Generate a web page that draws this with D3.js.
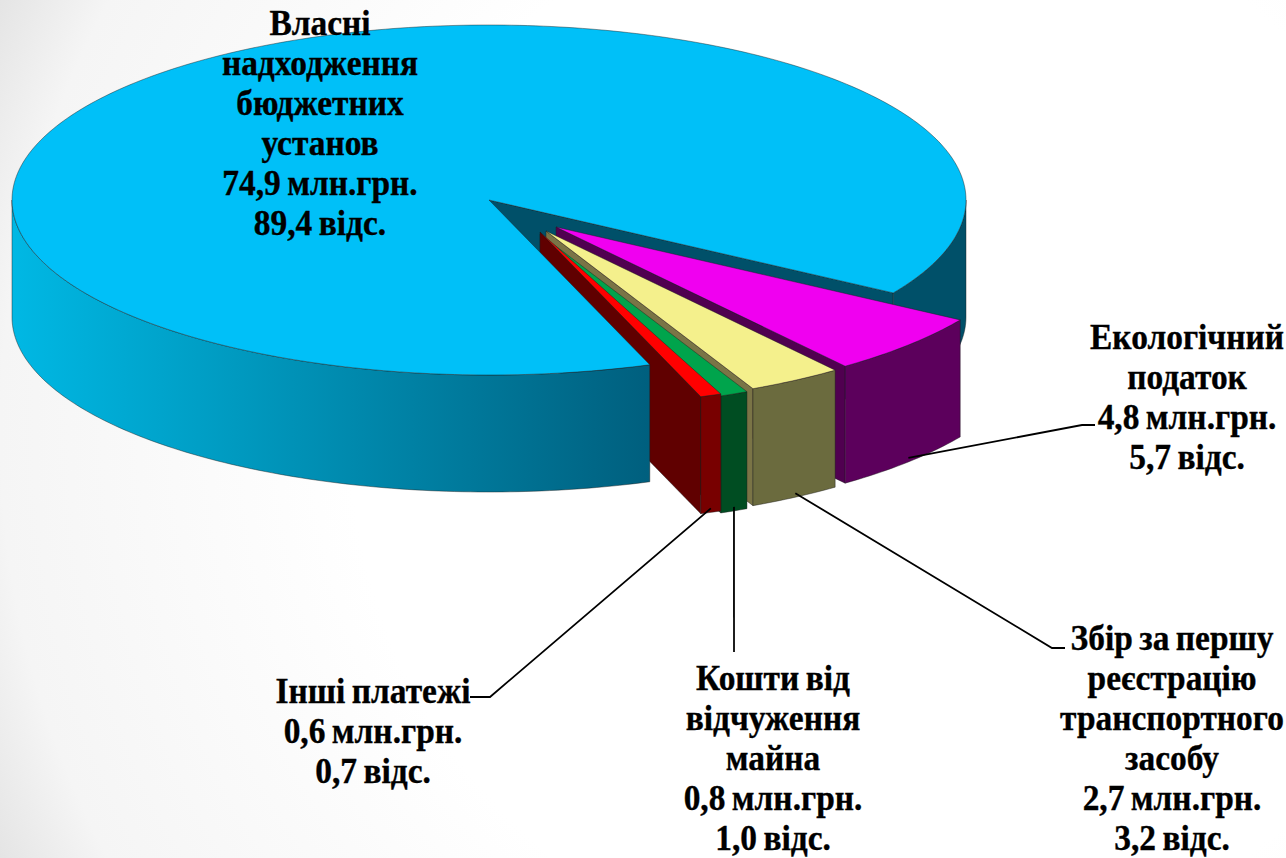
<!DOCTYPE html>
<html>
<head>
<meta charset="utf-8">
<script src="https://cdn.jsdelivr.net/npm/d3@7"></script>
<style>
html, body { margin: 0; padding: 0; background: #fff; overflow: hidden; }
text { font-family: "Liberation Serif", serif; font-weight: bold; font-size: 35px; word-spacing: -2px; fill: #000; stroke: #000; stroke-width: 0.35px; }
</style>
</head>
<body>
<div id="chart"></div>
<script>
const categories = [
    ["Власні", "надходження", "бюджетних", "установ"],
    ["Екологічний", "податок"],
    ["Збір за першу", "реєстрацію", "транспортного", "засобу"],
    ["Кошти від", "відчуження", "майна"],
    ["Інші платежі"]
];
const values = [74.9, 4.8, 2.7, 0.8, 0.6];
const percents = [89.4, 5.7, 3.2, 1.0, 0.7];

// colours for each slice: top, outer wall, inner wall
const topColors = ["#00c0f8", "#f000f0", "#f4f08c", "#00a44c", "#ff0000"];
const wallColors = ["#005069", "#5c005c", "#6b6b3e", "#004d22", "#780000"];
const innerColors = ["#005069", "#500050", "#7a7446", "#004d22", "#600000"];

// layout
const pull = [[0, 0], [67, 27], [57, 31], [51, 34], [51, 32]];
const labelX = [320, 1187, 1172, 773, 373];
const labelY = [35, 349, 650, 690, 703];
const elbow = [null, [1082, 425, 1095, 425], [1052, 648, 1065, 648], [734, 652, 734, 652], [490, 697, 470, 697]];
const depth = 117;
const lineGap = 40;
const startDeg = 160.3;
const squeeze = 0.955;

const width = 1286, height = 858;
const svg = d3.select("#chart").append("svg").attr("width", width).attr("height", height);
const defs = svg.append("defs");

let bg = defs.append("radialGradient").attr("id", "bg").attr("gradientUnits", "userSpaceOnUse")
    .attr("cx", 900).attr("cy", 430).attr("r", 1000);
bg.append("stop").attr("offset", 0.55).attr("stop-color", "#ffffff");
bg.append("stop").attr("offset", 0.9).attr("stop-color", "#f5f5f5");
bg.append("stop").attr("offset", 1).attr("stop-color", "#e4e4e4");
let wallGrad = defs.append("linearGradient").attr("id", "wall")
    .attr("gradientUnits", "userSpaceOnUse").attr("x1", 12).attr("x2", 650).attr("y1", 0).attr("y2", 0);
wallGrad.append("stop").attr("offset", 0).attr("stop-color", "#00b8e4");
wallGrad.append("stop").attr("offset", 0.35).attr("stop-color", "#009ac0");
wallGrad.append("stop").attr("offset", 1).attr("stop-color", "#005f7e");

svg.append("rect").attr("width", width).attr("height", height).attr("fill", "url(#bg)");

// unit circle to the squashed pie on screen
const x = d3.scaleLinear().domain([-1, 1]).range([12, 966]);
const y = d3.scaleLinear().domain([-1, 1]).range([25, 375]);

const rad = d3.pie().sort(null)
    .startAngle(startDeg * Math.PI / 180)
    .endAngle((startDeg + 360) * Math.PI / 180)(values);

const line = d3.line();

function rim(a, i, dy) {
    return [x(Math.sin(a)) + pull[i][0], y(-Math.cos(a)) + pull[i][1] + dy];
}
function arcPts(a0, a1, i, dy) {
    let pts = [];
    let n = Math.max(2, Math.ceil(Math.abs(a1 - a0) * 60));
    for (let k = 0; k <= n; k++) pts.push(rim(a0 + (a1 - a0) * k / n, i, dy));
    return pts;
}
function centre(i, dy) {
    return [x(0) + pull[i][0], y(0) + pull[i][1] + dy];
}
function topPath(d, i) {
    return line([centre(i, 0)].concat(arcPts(d.startAngle, d.endAngle, i, 0))) + "Z";
}
function outerPath(a0, a1, i) {
    return line(arcPts(a0, a1, i, 0).concat(arcPts(a1, a0, i, depth))) + "Z";
}
function innerPath(a, i) {
    return line([centre(i, 0), rim(a, i, 0), rim(a, i, depth), centre(i, depth)]) + "Z";
}
function face(path, fill) {
    svg.append("path").attr("d", path).attr("fill", fill)
        .attr("stroke", "#1c1c1c").attr("stroke-opacity", 0.55).attr("stroke-width", 0.8).attr("stroke-linejoin", "round");
}

// main slice, back part first
const main = rad[0];
face(innerPath(main.endAngle, 0), innerColors[0]);
face(outerPath(main.endAngle, Math.PI * 2.5, 0), wallColors[0]);

// pulled out slices, back to front
for (let i = 1; i < rad.length; i++) {
    face(innerPath(rad[i].endAngle, i), innerColors[i]);
    face(outerPath(rad[i].startAngle, rad[i].endAngle, i), wallColors[i]);
    face(topPath(rad[i], i), topColors[i]);
}

// front of the main slice goes over the red slice side
face(outerPath(main.startAngle, Math.PI * 1.5, 0), "url(#wall)");
face(topPath(main, 0), topColors[0]);

// leader lines
for (let i = 1; i < rad.length; i++) {
    let a = (rad[i].startAngle + rad[i].endAngle) / 2;
    let s = rim(a, i, depth - 4);
    svg.append("path").attr("fill", "none").attr("stroke", "#000").attr("stroke-width", 1.8)
        .attr("d", line([s, [elbow[i][0], elbow[i][1]], [elbow[i][2], elbow[i][3]]]));
}

// labels
const fmt = v => v.toFixed(1).replace(".", ",");
categories.forEach((names, i) => {
    let rows = names.concat([fmt(values[i]) + " млн.грн.", fmt(percents[i]) + " відс."]);
    svg.append("text").attr("text-anchor", "middle")
        .attr("transform", "translate(" + labelX[i] + ",0) scale(" + squeeze + ",1)")
        .selectAll("tspan").data(rows).enter().append("tspan")
        .attr("x", 0)
        .attr("y", (d, k) => labelY[i] + k * lineGap)
        .text(d => d);
});
</script>
</body>
</html>
